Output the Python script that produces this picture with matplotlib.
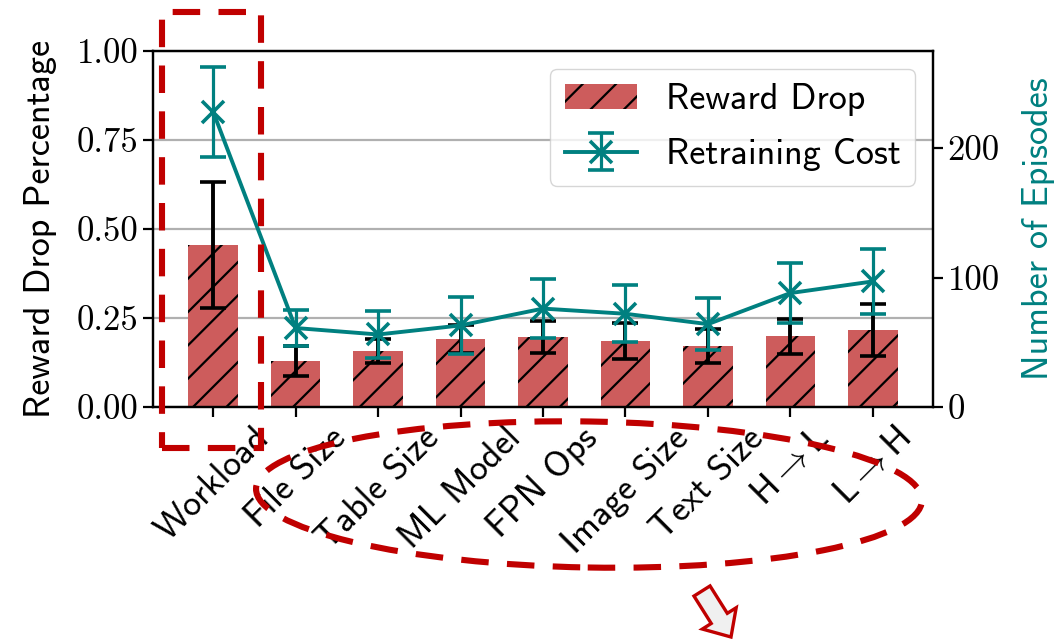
import matplotlib
matplotlib.use("Agg")
import matplotlib.pyplot as plt
from matplotlib.patches import Rectangle, Ellipse, FancyArrow
import numpy as np

# ---- data ----
categories = ["Workload", "File Size", "Table Size", "ML Model", "FPN Ops",
              "Image Size", "Text Size", "H$\\rightarrow$L", "L$\\rightarrow$H"]
reward_drop = [0.455, 0.129, 0.157, 0.191, 0.197, 0.186, 0.171, 0.199, 0.216]
reward_drop_err = [0.178, 0.042, 0.034, 0.040, 0.045, 0.051, 0.048, 0.049, 0.072]
retrain_cost = [228, 61, 56, 63, 76, 72, 64, 88, 97]
retrain_cost_err = [35, 14, 18, 22, 23, 22, 20, 23, 25]

left_ticks = [0.0, 0.25, 0.5, 0.75, 1.0]
right_ticks = [0, 100, 200]

# ---- style ----
plt.rcParams["mathtext.fontset"] = "cm"
plt.rcParams["axes.formatter.use_mathtext"] = True
plt.rcParams["hatch.linewidth"] = 1.6
plt.rcParams["hatch.color"] = "black"

SANS = "cmss10"
SERIF = "cmr10"
FS_NUM = 25
FS_TXT = 26
BAR_COLOR = "#cd5c5c"
TEAL = "#008080"
MARK_RED = "#c00000"

fig = plt.figure(figsize=(10.61, 6.39), dpi=100)
ax1 = fig.add_axes([0.1442, 0.3631, 0.7352, 0.5571])
ax2 = ax1.twinx()

x = np.arange(len(categories))

bars = ax1.bar(x, reward_drop, width=0.6, color=BAR_COLOR, edgecolor="black",
               linewidth=0, hatch="/", yerr=reward_drop_err,
               error_kw=dict(ecolor="black", elinewidth=2.8, capsize=9.4, capthick=2.6),
               label="Reward Drop", zorder=2)

eb = ax2.errorbar(x, retrain_cost, yerr=retrain_cost_err, color=TEAL, marker="x",
                  markersize=16, markeredgewidth=2.6, linewidth=2.8, elinewidth=2.3,
                  capsize=9.4, capthick=2.3, label="Retraining Cost")

ax1.set_ylim(0, 1.0)
ax2.set_ylim(0, 275)
ax1.set_yticks(left_ticks)
ax1.set_yticklabels([f"{v:.2f}" for v in left_ticks], fontfamily=SERIF, fontsize=FS_NUM)
ax2.set_yticks(right_ticks)
ax2.set_yticklabels([str(v) for v in right_ticks], fontfamily=SERIF, fontsize=FS_NUM)

ax1.set_xticks(x)
ax1.set_xticklabels(categories, rotation=45, fontfamily=SANS, fontsize=FS_TXT)

ax1.set_ylabel("Reward Drop Percentage", fontfamily=SANS, fontsize=FS_TXT, labelpad=14)
ax2.set_ylabel("Number of Episodes", fontfamily=SANS, fontsize=FS_TXT, color=TEAL,
               labelpad=16)

ax1.yaxis.grid(True, color="#b0b0b0", linewidth=1.6)
ax1.set_axisbelow(True)

for ax in (ax1, ax2):
    for s in ax.spines.values():
        s.set_linewidth(1.6)
    ax.tick_params(width=1.6, length=7)

handles = [bars, eb]
leg = ax2.legend(handles, ["Reward Drop", "Retraining Cost"], loc="upper right",
                 prop=dict(family=SANS, size=FS_TXT), labelspacing=0.6)

# ---- highlight marks (in inches from the bottom-left of the figure) ----
H = 6.39
tr = fig.dpi_scale_trans
fig.patches.append(Rectangle((1.615, H - 4.48), 2.61 - 1.615, 4.48 - 0.12,
                             fill=False, edgecolor=MARK_RED, linewidth=4.4,
                             linestyle=(0, (4.5, 3)), transform=tr, figure=fig))
fig.patches.append(Ellipse((5.89, H - 4.945), 6.66, 1.46, angle=-1.0,
                           fill=False, edgecolor=MARK_RED, linewidth=4.4,
                           linestyle=(0, (4.5, 3)), transform=tr, figure=fig))
fig.patches.append(FancyArrow(7.02, H - 5.91, 0.29, -0.46, width=0.19,
                              head_width=0.40, head_length=0.22,
                              length_includes_head=True,
                              facecolor="#f0f0f0", edgecolor=MARK_RED,
                              linewidth=2.4, transform=tr, figure=fig))

fig.savefig("out.png", dpi=100)
